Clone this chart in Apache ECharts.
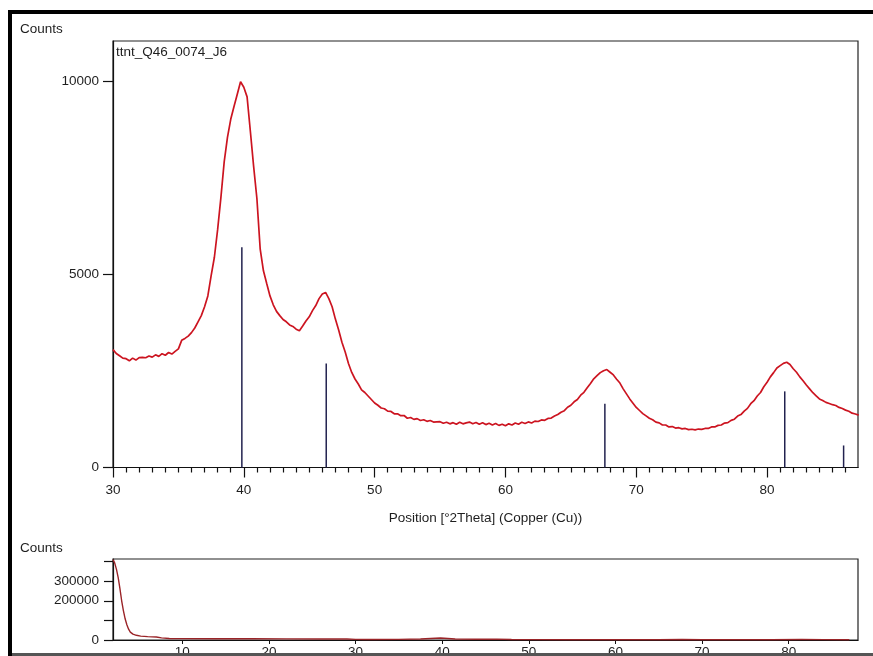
<!DOCTYPE html>
<html>
<head>
<meta charset="utf-8">
<script src="https://cdn.jsdelivr.net/npm/echarts@6/dist/echarts.min.js"></script>
<style>
  html, body { margin: 0; padding: 0; background: #ffffff; }
  #chart { width: 873px; height: 656px; }
</style>
</head>
<body>
<div id="chart"></div>
<script>
// Scan of sample ttnt_Q46_0074_J6, step 0.25 °2Theta starting at 30
const scanStart = 30;
const scanStep = 0.25;
const scanCounts = [
  3050, 2950, 2890, 2830, 2815, 2760, 2830, 2780,
  2845, 2850, 2840, 2885, 2855, 2915, 2875, 2945,
  2905, 2975, 2935, 3005, 3070, 3290, 3340, 3400,
  3490, 3610, 3770, 3930, 4160, 4440, 4960, 5440,
  6160, 6990, 7910, 8540, 9010, 9340, 9660, 9980,
  9840, 9590, 8700, 7790, 6960, 5660, 5090, 4760,
  4440, 4210, 4040, 3930, 3830, 3770, 3690, 3650,
  3580, 3540, 3660, 3790, 3900, 4060, 4190, 4370,
  4490, 4530, 4370, 4160, 3840, 3560, 3240, 2990,
  2690, 2460, 2290, 2160, 2010, 1940, 1850, 1760,
  1670, 1610, 1540, 1520, 1460, 1450, 1390, 1390,
  1340, 1345, 1275, 1295, 1245, 1265, 1215, 1235,
  1195, 1215, 1175, 1180, 1185, 1145, 1170, 1130,
  1160, 1120, 1170, 1130, 1155, 1175, 1130, 1165,
  1120, 1160, 1110, 1145, 1100, 1140, 1090, 1120,
  1080, 1130, 1100, 1150, 1120, 1170, 1140, 1180,
  1150, 1200, 1190, 1230, 1220, 1270, 1280, 1330,
  1370, 1430, 1470, 1560, 1610, 1700, 1760, 1870,
  1945, 2065, 2175, 2295, 2375, 2455, 2505, 2535,
  2465, 2395, 2285, 2185, 2035, 1905, 1775, 1665,
  1555, 1475, 1395, 1335, 1275, 1235, 1175, 1155,
  1100, 1100, 1050, 1060, 1020, 1030, 1000, 1010,
  980, 990, 975, 995, 985, 1010, 1010, 1050,
  1050, 1090, 1100, 1150, 1160, 1220, 1250, 1330,
  1370, 1460, 1530, 1650, 1730, 1850, 1940, 2090,
  2205, 2345, 2455, 2575, 2635, 2695, 2725, 2665,
  2555, 2465, 2345, 2245, 2135, 2035, 1935, 1855,
  1775, 1735, 1685, 1655, 1625, 1605, 1555, 1525,
  1485, 1455, 1405, 1385, 1355
];

// Reference pattern lines (position, intensity)
const stickAngle = [39.85, 46.3, 67.6, 81.35, 85.85];
const stickHeight = [5700, 2690, 1650, 1970, 570];

// Full-range overview scan
const overviewAngle = [2.0, 2.2, 2.4, 2.6, 2.8, 3.0, 3.2, 3.4, 3.6, 3.8, 4.0, 4.3, 4.7, 5.2, 6.0, 7.0, 7.6, 8.5, 10, 14, 18, 22, 26, 29,
  30, 31, 32, 35, 37.5, 39.8, 41.5, 44, 46.3, 48, 50, 55, 60, 65, 67.7, 70, 74, 78, 81.5, 84, 87];
const overviewCounts = [410000, 392000, 360000, 318000, 262000, 200000, 150000, 108000, 78000, 55000, 40000, 30000, 24000, 20000, 17000, 15000, 11000, 8000, 7000, 6500, 6000, 5600, 5300, 5000,
  3050, 2800, 2850, 3000, 5000, 10000, 5100, 3600, 4500, 2700, 1700, 1180, 1100, 1600, 2530, 1560, 990, 1380, 2730, 1780, 1360];

// Tick labels
const mainXTicks = [30, 40, 50, 60, 70, 80];
const mainXMinor = [31, 32, 33, 34, 35, 36, 37, 38, 39, 41, 42, 43, 44, 45, 46, 47, 48, 49, 51, 52, 53, 54, 55, 56, 57, 58, 59,
  61, 62, 63, 64, 65, 66, 67, 68, 69, 71, 72, 73, 74, 75, 76, 77, 78, 79, 81, 82, 83, 84, 85, 86];
const mainYTicks = [0, 5000, 10000];
const overviewXTicks = [10, 20, 30, 40, 50, 60, 70, 80];
const overviewYTicks = [0, 100000, 200000, 300000, 400000];
const overviewYLabels = [0, 200000, 300000];

const FONT = '"Liberation Sans", Arial, sans-serif';
const FS = 13.5;
const TXT = '#1e1e1e';
const plain = (v) => String(v);

const scanData = scanCounts.map((c, i) => [scanStart + i * scanStep, c]);
const overviewData = overviewAngle.map((a, i) => [a, overviewCounts[i]]);
const stickData = stickAngle.map((a, i) => [a, stickHeight[i]]);

const chart = echarts.init(document.getElementById('chart'), null, { renderer: 'canvas' });

const axisLineStyle = { color: '#111', width: 1.2 };
const labelStyle = { color: TXT, fontSize: FS, fontFamily: FONT, formatter: plain };

chart.setOption({
  backgroundColor: '#ffffff',
  animation: false,
  grid: [
    { left: 113, top: 41, width: 745, height: 426.5, show: true, borderColor: '#222', borderWidth: 1.2, backgroundColor: 'transparent', outerBoundsMode: 'none', containLabel: false },
    { left: 113, top: 559, width: 745, height: 81, show: true, borderColor: '#222', borderWidth: 1.2, backgroundColor: 'transparent', outerBoundsMode: 'none', containLabel: false }
  ],
  xAxis: [
    {
      gridIndex: 0, type: 'value', min: 30, max: 86.95, position: 'bottom',
      axisLine: { show: true, lineStyle: axisLineStyle },
      axisTick: { show: true, inside: false, length: 10, customValues: mainXTicks, lineStyle: { color: '#111', width: 1.2 } },
      axisLabel: Object.assign({ customValues: mainXTicks, margin: 16 }, labelStyle),
      splitLine: { show: false },
      name: 'Position [°2Theta] (Copper (Cu))', nameLocation: 'middle', nameGap: 44,
      nameTextStyle: { color: TXT, fontSize: FS, fontFamily: FONT }
    },
    {
      gridIndex: 0, type: 'value', min: 30, max: 86.95, position: 'bottom',
      axisLine: { show: false },
      axisTick: { show: true, inside: false, length: 5, customValues: mainXMinor, lineStyle: { color: '#111', width: 1.2 } },
      axisLabel: { show: false },
      splitLine: { show: false }
    },
    {
      gridIndex: 1, type: 'value', min: 2, max: 88, position: 'bottom',
      axisLine: { show: true, lineStyle: axisLineStyle },
      axisTick: { show: true, inside: false, length: 4, customValues: overviewXTicks, lineStyle: { color: '#111' } },
      axisLabel: Object.assign({ customValues: overviewXTicks, margin: 5 }, labelStyle),
      splitLine: { show: false }
    }
  ],
  yAxis: [
    {
      gridIndex: 0, type: 'value', min: 0, max: 11036,
      axisLine: { show: true, lineStyle: axisLineStyle },
      axisTick: { show: true, inside: false, length: 10, customValues: mainYTicks, lineStyle: { color: '#111', width: 1.2 } },
      axisLabel: Object.assign({ customValues: mainYTicks, margin: 14 }, labelStyle),
      splitLine: { show: false }
    },
    {
      gridIndex: 1, type: 'value', min: 0, max: 413000,
      axisLine: { show: true, lineStyle: axisLineStyle },
      axisTick: { show: true, inside: false, length: 9, customValues: overviewYTicks, lineStyle: { color: '#111', width: 1.2 } },
      axisLabel: Object.assign({ customValues: overviewYLabels, margin: 14 }, labelStyle),
      splitLine: { show: false }
    }
  ],
  series: [
    {
      type: 'line', xAxisIndex: 0, yAxisIndex: 0, data: scanData,
      showSymbol: false, symbol: 'none', clip: true,
      lineStyle: { color: '#cc1420', width: 1.7 }, z: 3
    },
    {
      type: 'custom', xAxisIndex: 0, yAxisIndex: 0, data: stickData, z: 2,
      renderItem: function (params, api) {
        const x = api.value(0);
        const h = api.value(1);
        const p0 = api.coord([x, 0]);
        const p1 = api.coord([x, h]);
        return {
          type: 'line',
          shape: { x1: p0[0], y1: p0[1], x2: p1[0], y2: p1[1] },
          style: { stroke: '#22224f', lineWidth: 1.5 }
        };
      }
    },
    {
      type: 'line', xAxisIndex: 2, yAxisIndex: 1, data: overviewData,
      showSymbol: false, symbol: 'none', clip: true,
      lineStyle: { color: '#9a2428', width: 1.4 }
    }
  ],
  graphic: [
    { type: 'text', z: 50, style: { text: 'Counts', x: 20, y: 29, fill: TXT, font: FS + 'px ' + FONT, align: 'left', verticalAlign: 'middle' } },
    { type: 'text', z: 50, style: { text: 'ttnt_Q46_0074_J6', x: 116, y: 52, fill: TXT, font: FS + 'px ' + FONT, align: 'left', verticalAlign: 'middle' } },
    { type: 'text', z: 50, style: { text: 'Counts', x: 20, y: 548, fill: TXT, font: FS + 'px ' + FONT, align: 'left', verticalAlign: 'middle' } },
    // outer frame
    { type: 'rect', z: 100, shape: { x: 8, y: 10, width: 865, height: 4 }, style: { fill: '#000' } },
    { type: 'rect', z: 100, shape: { x: 8, y: 10, width: 4, height: 646 }, style: { fill: '#000' } },
    { type: 'rect', z: 100, shape: { x: 12, y: 653, width: 861, height: 3 }, style: { fill: '#555' } }
  ]
});
</script>
</body>
</html>
